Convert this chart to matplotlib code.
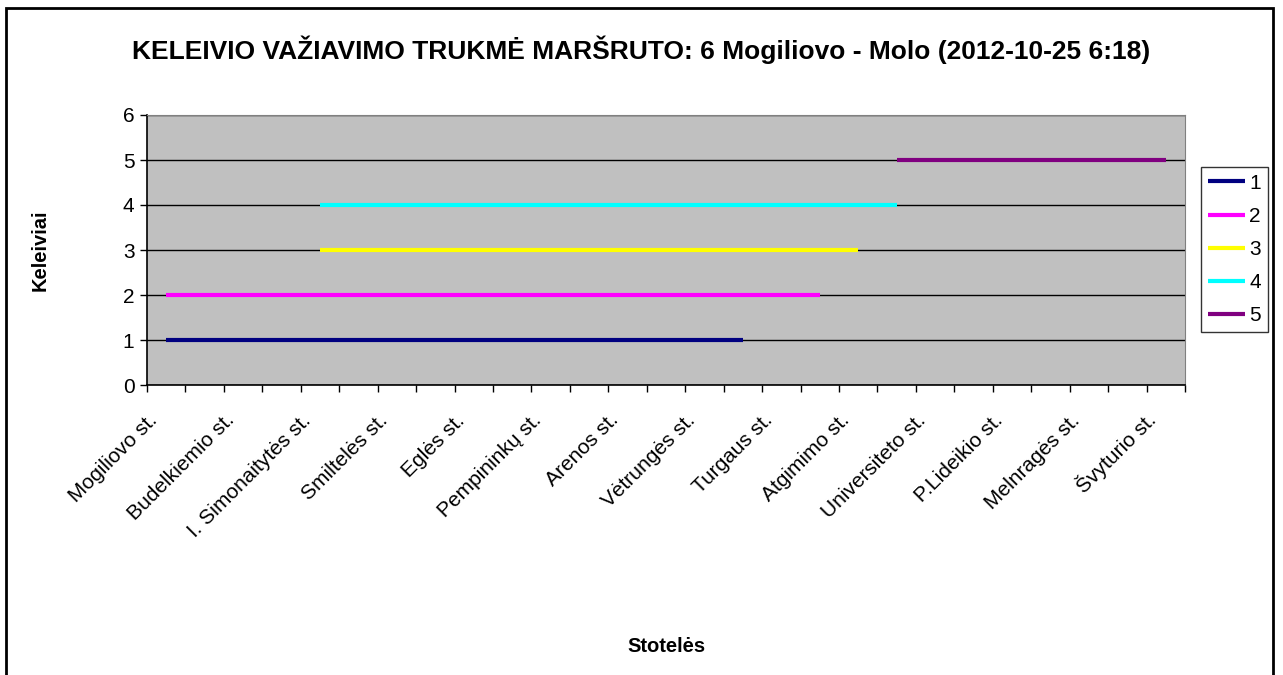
import numpy as np
import matplotlib.pyplot as plt
from matplotlib.patches import Rectangle
from matplotlib.transforms import ScaledTranslation

plt.rcParams['font.family'] = ['Liberation Sans', 'DejaVu Sans']

# Stops (labels shown on every other category)
stops = ["Mogiliovo st.", "Budelkiemio st.", "I. Simonaitytės st.", "Smiltelės st.",
         "Eglės st.", "Pempininkų st.", "Arenos st.", "Vėtrungės st.", "Turgaus st.",
         "Atgimimo st.", "Universiteto st.", "P.Lideikio st.", "Melnragės st.", "Švyturio st."]

N = None
# one value per category (27 categories: stops and the gaps between them)
series_1 = [1, 1, 1, 1, 1, 1, 1, 1, 1, 1, 1, 1, 1, 1, 1, 1, N, N, N, N, N, N, N, N, N, N, N]
series_2 = [2, 2, 2, 2, 2, 2, 2, 2, 2, 2, 2, 2, 2, 2, 2, 2, 2, 2, N, N, N, N, N, N, N, N, N]
series_3 = [N, N, N, N, 3, 3, 3, 3, 3, 3, 3, 3, 3, 3, 3, 3, 3, 3, 3, N, N, N, N, N, N, N, N]
series_4 = [N, N, N, N, 4, 4, 4, 4, 4, 4, 4, 4, 4, 4, 4, 4, 4, 4, 4, 4, N, N, N, N, N, N, N]
series_5 = [N, N, N, N, N, N, N, N, N, N, N, N, N, N, N, N, N, N, N, 5, 5, 5, 5, 5, 5, 5, 5]
series_names = ["1", "2", "3", "4", "5"]
colors = ["#000080", "#FF00FF", "#FFFF00", "#00FFFF", "#800080"]


def main():
    fig = plt.figure(figsize=(12.83, 6.75), dpi=100)
    ax = fig.add_axes([147 / 1283, 1 - 385 / 675, 1038 / 1283, 270 / 675])
    ax.set_facecolor("#C0C0C0")

    n_cat = len(series_1)
    x = np.arange(n_cat)
    all_series = [series_1, series_2, series_3, series_4, series_5]
    for name, vals, col in zip(series_names, all_series, colors):
        y = np.array([np.nan if v is None else v for v in vals], dtype=float)
        ax.plot(x, y, color=col, lw=3, label=name, solid_capstyle='butt', zorder=3)

    ax.set_xlim(-0.5, n_cat - 0.5)
    ax.set_ylim(0, 6)
    ax.set_yticks(range(7))
    ax.yaxis.grid(True, color="black", lw=1)
    ax.set_axisbelow(True)

    # tick marks on category boundaries, labels on every other category
    ax.set_xticks(np.arange(-0.5, n_cat, 1))
    ax.set_xticklabels([])
    ax.set_xticks(np.arange(0, n_cat, 2), minor=True)
    ax.set_xticklabels(stops, minor=True, rotation=45, ha='right', va='baseline',
                       rotation_mode='anchor', fontsize=15)
    ax.tick_params(axis='x', which='major', direction='out', length=5, width=1, color='black')
    ax.tick_params(axis='x', which='minor', length=0, pad=26)
    ax.tick_params(axis='y', direction='out', length=5, width=1, labelsize=15, pad=4)
    shift = ScaledTranslation(-0.08, 0, fig.dpi_scale_trans)
    for lbl in ax.get_xticklabels(minor=True):
        lbl.set_transform(lbl.get_transform() + shift)

    for s in ['top', 'right']:
        ax.spines[s].set_color('#808080')
    for s in ['left', 'bottom']:
        ax.spines[s].set_color('black')
        ax.spines[s].set_linewidth(1.2)

    leg = ax.legend(loc='center left', bbox_to_anchor=(1201 / 1283, 1 - 249.5 / 675),
                    bbox_transform=fig.transFigure, fontsize=15, frameon=True,
                    fancybox=False, handlelength=1.8, handletextpad=0.2,
                    labelspacing=0.68, borderpad=0.32, borderaxespad=0)
    leg.get_frame().set_edgecolor('black')
    leg.get_frame().set_linewidth(1)

    fig.text(641 / 1283, 1 - 50 / 675, "KELEIVIO VAŽIAVIMO TRUKMĖ MARŠRUTO: 6 Mogiliovo - Molo (2012-10-25 6:18)",
             ha='center', va='center', fontsize=19, fontweight='bold')
    fig.text(40 / 1283, 1 - 250 / 675, "Keleiviai", rotation=90, ha='center', va='center',
             fontsize=14.5, fontweight='bold')
    fig.text(666 / 1283, 1 - 646 / 675, "Stotelės", ha='center', va='center',
             fontsize=14.5, fontweight='bold')

    # outer chart border
    fig.patches.append(Rectangle((6 / 1283, -0.05), 1267 / 1283, 1.05 - 8 / 675,
                                 transform=fig.transFigure, fill=False,
                                 edgecolor='black', lw=2))

    fig.savefig("out.png", dpi=100)


if __name__ == "__main__":
    main()
